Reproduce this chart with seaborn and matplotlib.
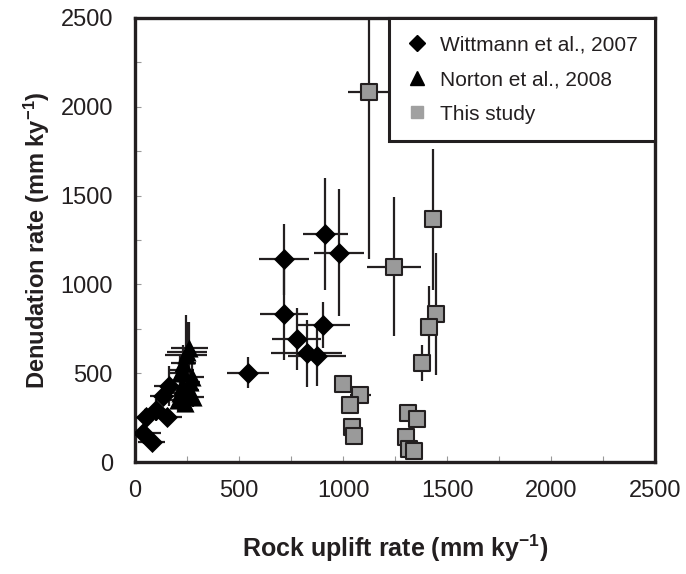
import numpy as np
import pandas as pd
import seaborn as sns
import matplotlib.pyplot as plt
from matplotlib.lines import Line2D
from matplotlib.ticker import MultipleLocator

# Wittmann et al., 2007
witt_x = [37, 80, 53, 101, 155, 136, 165, 542, 716, 716, 777, 825, 876, 902, 915, 978]
witt_y = [161, 112, 255, 293, 255, 372, 428, 503, 1141, 833, 694, 612, 597, 770, 1282, 1179]
witt_xerr = [85, 65, 60, 60, 70, 65, 75, 100, 120, 115, 118, 170, 140, 130, 110, 120]
witt_yerr = [40, 40, 40, 60, 40, 50, 115, 88, 200, 260, 175, 190, 170, 130, 315, 355]

# Norton et al., 2008
nort_x = [261, 245, 250, 232, 224, 216, 272, 264, 256, 216, 224, 280, 240, 208]
nort_y = [640, 600, 620, 556, 520, 500, 480, 450, 405, 388, 430, 368, 335, 350]
nort_xerr = [90, 100, 95, 60, 60, 50, 60, 50, 50, 45, 55, 50, 45, 40]
nort_yerr = [150, 230, 170, 100, 80, 100, 90, 70, 60, 60, 70, 60, 50, 60]

# This study
this_x = [1122, 1245, 1434, 1447, 1412, 1378, 998, 1082, 1034, 1042, 1050, 1311, 1357, 1303, 1317, 1340]
this_y = [2085, 1100, 1366, 833, 758, 556, 437, 377, 321, 199, 146, 274, 242, 139, 73, 60]
this_xerr = [100, 130, 20, 20, 20, 25, 30, 50, 25, 25, 25, 20, 30, 20, 25, 30]
this_yerr = [940, 390, 395, 345, 230, 100, 30, 30, 25, 25, 20, 20, 20, 25, 25, 20]

sns.set_style('ticks')
plt.rcParams['font.family'] = ['Liberation Sans', 'DejaVu Sans']
plt.rcParams['mathtext.fontset'] = 'custom'
plt.rcParams['mathtext.rm'] = 'Liberation Sans:bold'
plt.rcParams['mathtext.default'] = 'rm'

fig = plt.figure(figsize=(6.86, 5.74), dpi=100)
ax = fig.add_axes([0.197, 0.195, 0.758, 0.774])

ink = '#231f20'
eb = dict(fmt='none', ecolor=ink, elinewidth=1.6, capsize=0, zorder=2)
ax.errorbar(witt_x, witt_y, xerr=witt_xerr, yerr=witt_yerr, **eb)
ax.errorbar(nort_x, nort_y, xerr=nort_xerr, yerr=nort_yerr, **eb)
ax.errorbar(this_x, this_y, xerr=this_xerr, yerr=this_yerr, **eb)

witt = pd.DataFrame({'x': witt_x, 'y': witt_y})
nort = pd.DataFrame({'x': nort_x, 'y': nort_y})
this = pd.DataFrame({'x': this_x, 'y': this_y})

sns.scatterplot(data=witt, x='x', y='y', marker='D', s=115, color='black',
                edgecolor='black', linewidth=0, ax=ax, zorder=3, legend=False)
sns.scatterplot(data=nort, x='x', y='y', marker='^', s=170, color='black',
                edgecolor='black', linewidth=0, ax=ax, zorder=3, legend=False)
sns.scatterplot(data=this, x='x', y='y', marker='s', s=125, color='#9a9a9a',
                edgecolor=ink, linewidth=1.5, ax=ax, zorder=4, legend=False)

ax.set_xlim(0, 2500)
ax.set_ylim(0, 2500)
ax.xaxis.set_major_locator(MultipleLocator(500))
ax.yaxis.set_major_locator(MultipleLocator(500))
ax.xaxis.set_minor_locator(MultipleLocator(250))
ax.yaxis.set_minor_locator(MultipleLocator(250))
ax.tick_params(which='both', direction='in', length=4, width=0.8, color='#999999',
               labelsize=17, labelcolor=ink)
ax.tick_params(axis='x', pad=13)
ax.tick_params(axis='y', pad=16)
for s in ax.spines.values():
    s.set_linewidth(2.4)
    s.set_color(ink)

ax.set_xlabel(r'Rock uplift rate (mm ky$^{-1}$)', fontsize=18, fontweight='bold',
              color=ink, labelpad=22)
ax.set_ylabel(r'Denudation rate (mm ky$^{-1}$)', fontsize=17, fontweight='bold',
              color=ink, labelpad=6)

handles = [
    Line2D([], [], ls='none', marker='D', ms=8, color='black', mec='black'),
    Line2D([], [], ls='none', marker='^', ms=10, color='black', mec='black'),
    Line2D([], [], ls='none', marker='s', ms=9, color='#a0a0a0', mec='#a0a0a0'),
]
labels = ['Wittmann et al., 2007', 'Norton et al., 2008', 'This study']
leg = ax.legend(handles, labels, loc='upper right', borderaxespad=0, fontsize=15,
                frameon=True, fancybox=False, handlelength=1.0, handletextpad=0.6,
                labelspacing=0.75, borderpad=0.85)
leg.get_frame().set_edgecolor(ink)
leg.get_frame().set_linewidth(2.2)
leg.get_frame().set_alpha(1)
leg.set_zorder(5)
for t in leg.get_texts():
    t.set_color(ink)

plt.savefig('out.png', dpi=100)
